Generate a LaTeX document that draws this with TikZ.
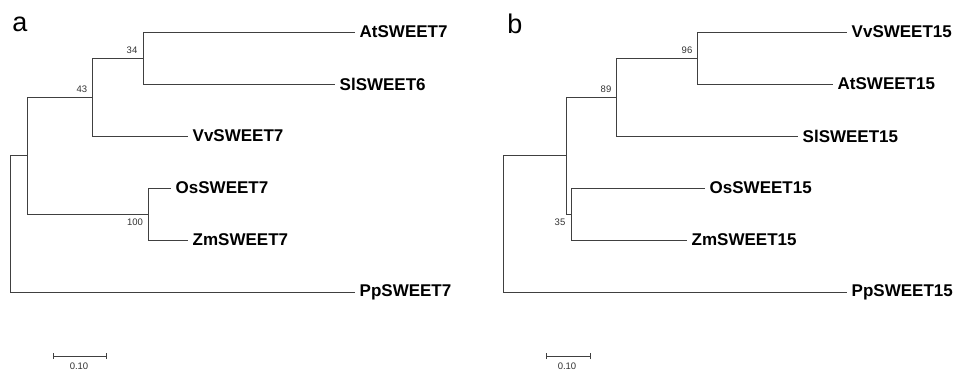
\documentclass[tikz,border=0pt]{standalone}
\usepackage{fontspec}
\setmainfont{Liberation Sans}
\begin{document}
\begin{tikzpicture}[x=1pt,y=-1pt,
  branch/.style={draw=black!75,line width=0.9pt},
  leaf/.style={anchor=west,inner xsep=4.5pt,inner ysep=0pt,font=\fontsize{17}{19}\selectfont\bfseries},
  boot/.style={inner sep=0pt,text=black!80,font=\fontsize{9.5}{10}\selectfont},
  panel/.style={inner sep=0pt,font=\fontsize{27}{30}\selectfont},
  scalelbl/.style={inner sep=0pt,text=black!80,font=\fontsize{9.5}{10}\selectfont}]
\useasboundingbox[fill=white] (0,0) rectangle (956,371);

% ---------- panel a ----------
\node[panel] (pa) at (20,24) {a};
\node[leaf] (At7) at (355,32) {AtSWEET7};
\node[leaf] (Sl6) at (335,84) {SlSWEET6};
\node[leaf] (Vv7) at (188,136) {VvSWEET7};
\node[leaf] (Os7) at (171,188) {OsSWEET7};
\node[leaf] (Zm7) at (188,240) {ZmSWEET7};
\node[leaf] (Pp7) at (355,292) {PpSWEET7};
\coordinate (a34) at (143,58);
\coordinate (a43) at (92,97);
\coordinate (a100) at (148,214);
\coordinate (aM) at (27,155.5);
\coordinate (aR) at (10,223.5);
\draw[branch] (a34) |- (At7.west);
\draw[branch] (a34) |- (Sl6.west);
\draw[branch] (a43) |- (a34);
\draw[branch] (a43) |- (Vv7.west);
\draw[branch] (a100) |- (Os7.west);
\draw[branch] (a100) |- (Zm7.west);
\draw[branch] (aM) |- (a43);
\draw[branch] (aM) |- (a100);
\draw[branch] (aR) |- (aM);
\draw[branch] (aR) |- (Pp7.west);
\node[boot] (b34) at (132,50) {34};
\node[boot] (b43) at (82,89) {43};
\node[boot] (b100) at (135,222) {100};
\coordinate (sa1) at (53,356);
\coordinate (sa2) at (106,356);
\draw[branch,line width=0.8pt] (sa1) -- (sa2);
\draw[branch,line width=0.8pt] ([yshift=-3]sa1) -- ([yshift=3]sa1);
\draw[branch,line width=0.8pt] ([yshift=-3]sa2) -- ([yshift=3]sa2);
\node[scalelbl] (la) at (79,366) {0.10};

% ---------- panel b ----------
\node[panel] (pb) at (515,24) {b};
\node[leaf] (Vv15) at (847,32) {VvSWEET15};
\node[leaf] (At15) at (833,84) {AtSWEET15};
\node[leaf] (Sl15) at (798,136) {SlSWEET15};
\node[leaf] (Os15) at (705,188) {OsSWEET15};
\node[leaf] (Zm15) at (687,240) {ZmSWEET15};
\node[leaf] (Pp15) at (847,292) {PpSWEET15};
\coordinate (b96) at (697,58);
\coordinate (b89) at (616,97);
\coordinate (b35) at (571,214);
\coordinate (bM) at (566,155.5);
\coordinate (bR) at (503,223.5);
\draw[branch] (b96) |- (Vv15.west);
\draw[branch] (b96) |- (At15.west);
\draw[branch] (b89) |- (b96);
\draw[branch] (b89) |- (Sl15.west);
\draw[branch] (b35) |- (Os15.west);
\draw[branch] (b35) |- (Zm15.west);
\draw[branch] (bM) |- (b89);
\draw[branch] (bM) |- (b35);
\draw[branch] (bR) |- (bM);
\draw[branch] (bR) |- (Pp15.west);
\node[boot] (t96) at (687,50) {96};
\node[boot] (t89) at (606,89) {89};
\node[boot] (t35) at (560,222) {35};
\coordinate (sb1) at (546,356);
\coordinate (sb2) at (590,356);
\draw[branch,line width=0.8pt] (sb1) -- (sb2);
\draw[branch,line width=0.8pt] ([yshift=-3]sb1) -- ([yshift=3]sb1);
\draw[branch,line width=0.8pt] ([yshift=-3]sb2) -- ([yshift=3]sb2);
\node[scalelbl] (lb) at (567,366) {0.10};
\end{tikzpicture}
\end{document}
